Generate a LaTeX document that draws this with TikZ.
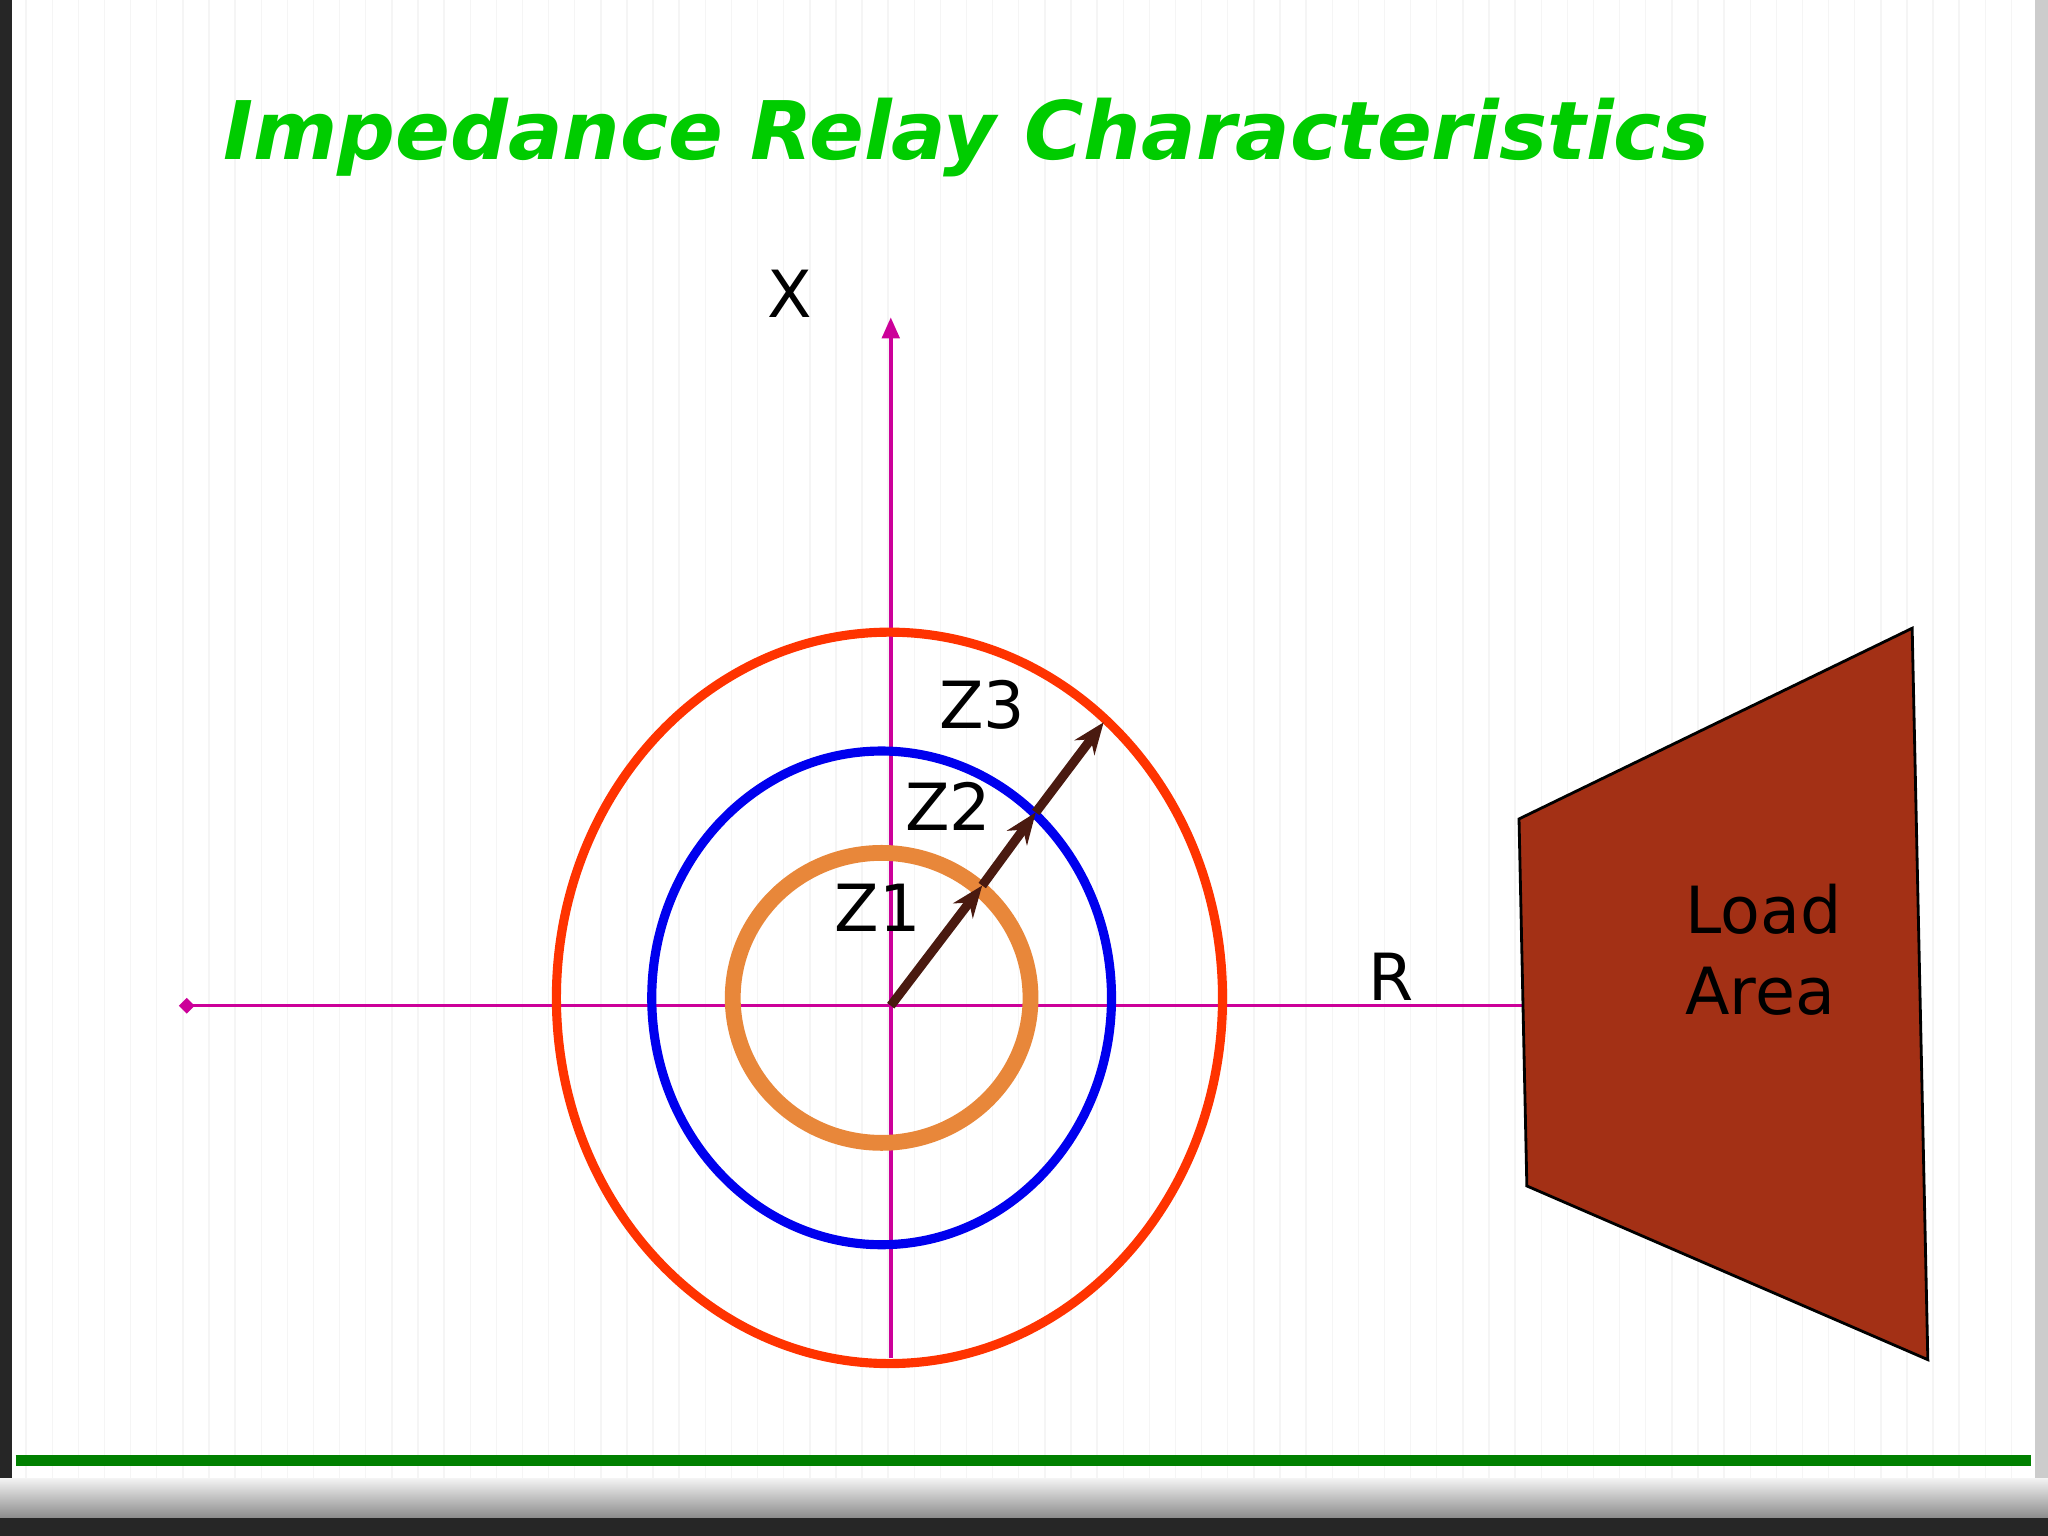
\documentclass[tikz,border=0pt]{standalone}
\usepackage{fontspec}
\setmainfont{DejaVu Sans}
\usetikzlibrary{arrows.meta}
\definecolor{mag}{HTML}{CC0099}
\definecolor{zred}{HTML}{FF3300}
\definecolor{zblue}{HTML}{0000EE}
\definecolor{zorange}{HTML}{E8873A}
\definecolor{brn}{HTML}{4A1A10}
\definecolor{load}{HTML}{A33015}
\definecolor{ttl}{HTML}{00CC00}
\tikzset{lbl/.style={font=\fontsize{18.5}{23}\selectfont, inner sep=0pt},
 zarrow/.style={brn, line width=2.6pt, -{Stealth[length=9pt,width=7pt]}}}
\begin{document}
\begin{tikzpicture}[x=0.01306cm,y=-0.01306cm]
\useasboundingbox (0,0) rectangle (1568,1176);
\fill[white] (0,0) rectangle (1568,1176);
\draw[black!4,line width=0.4pt,step=20] (0,0) grid (1568,1176);
\fill[black!85] (0,0) rectangle (9,1176);
\fill[black!20] (1558,0) rectangle (1568,1176);
\shade[top color=black!5,bottom color=black!45] (0,1132) rectangle (1568,1162);
\fill[black!85] (0,1162) rectangle (1568,1176);
\draw[green!50!black,line width=3.2pt] (12,1118) -- (1555,1118);
\node[text=ttl,font=\fontsize{23}{27}\selectfont\bfseries\itshape] (title) at (740,105) {Impedance Relay Characteristics};
% axes
\coordinate (o) at (682,770);
\coordinate (l) at (143,770);
\coordinate (r) at (1165,770);
\coordinate (b) at (682,1040);
\coordinate (t) at (682,243);
\draw[mag,line width=1pt] (l) -- (r);
\draw[mag,line width=1pt,-{Triangle[length=6pt,width=5pt]}] (b) -- (t);
\fill[mag] (l) ++(-6,0) -- ++(6,-6) -- ++(6,6) -- ++(-6,6) -- cycle;
\node[lbl] (X) at (605,225) {X};
\node[lbl] (R) at (1065,748) {R};
% circles
\draw[zred,line width=2.6pt] (681,764) ellipse [x radius=255,y radius=280];
\draw[zblue,line width=2.6pt] (675,764) ellipse [x radius=176,y radius=189];
\draw[zorange,line width=4.5pt] (675,764) ellipse [x radius=114,y radius=111];
% arrows
\coordinate (p1) at (752,678);
\coordinate (p2) at (793,622);
\coordinate (p3) at (845,553);
\draw[zarrow] (o) -- (p1);
\draw[zarrow] (p1) -- (p2);
\draw[zarrow] (p2) -- (p3);
\node[lbl] (z1) at (672,695) {Z1};
\node[lbl] (z2) at (726,617) {Z2};
\node[lbl] (z3) at (752,540) {Z3};
% load area
\draw[fill=load,draw=black,line width=0.8pt] (1163,627) -- (1464,481) -- (1476,1041) -- (1169,908) -- cycle;
\node[lbl,align=left] (la) at (1350,727) {Load\\Area};
\end{tikzpicture}
\end{document}
